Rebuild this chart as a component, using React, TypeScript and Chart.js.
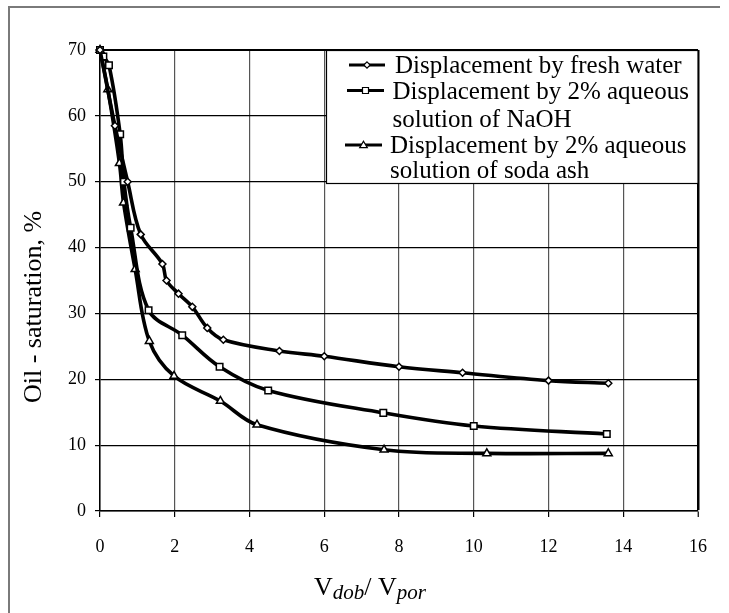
import React, { useEffect, useRef } from "react";
import { Chart, registerables } from "chart.js";

Chart.register(...registerables);

// ---- data ----
const freshX = [0, 0.4, 0.74, 1.09, 1.67, 1.78, 2.1, 2.47, 2.87, 3.3, 4.8, 6.0, 8.0, 9.7, 12.0, 13.6];
const freshY = [70, 58.5, 50, 42, 37.5, 35, 33, 31, 27.8, 26, 24.3, 23.5, 21.9, 21.0, 19.8, 19.4];

const naohX = [0, 0.09, 0.24, 0.54, 0.64, 0.82, 1.3, 2.2, 3.2, 4.5, 7.58, 10.0, 13.56];
const naohY = [70, 69, 67.7, 57.2, 50, 43, 30.5, 26.7, 21.9, 18.3, 14.9, 12.9, 11.7];

const sodaX = [0, 0.21, 0.52, 0.63, 0.94, 1.32, 1.98, 3.22, 4.2, 7.6, 10.35, 13.6];
const sodaY = [70, 64, 52.8, 46.8, 36.7, 25.8, 20.5, 16.7, 13.1, 9.3, 8.75, 8.75];

const legendLines = [
  ["Displacement by fresh water"],
  ["Displacement by 2% aqueous", "solution of NaOH"],
  ["Displacement by 2% aqueous", "solution of soda ash"],
];
const pointStyles = ["rectRot", "rect", "triangle"];
const pointRadii = [3.5, 4.6, 4.6];

const xTicks = [0, 2, 4, 6, 8, 10, 12, 14, 16];
const yTicks = [0, 10, 20, 30, 40, 50, 60, 70];
const yTitle = "Oil - saturation, %";
const xTitleParts = [
  { t: "V", sub: false },
  { t: "dob", sub: true },
  { t: "/ ", sub: false },
  { t: "V", sub: false },
  { t: "por", sub: true },
];

const SERIF = "'Liberation Serif', 'Times New Roman', serif";

const zip = (xs: number[], ys: number[]) => xs.map((x, i) => ({ x, y: ys[i] }));

const decorPlugin = {
  id: "decor",
  afterDraw(chart: any) {
    const ctx = chart.ctx as CanvasRenderingContext2D;
    const area = chart.chartArea;
    ctx.save();

    // outer frame (left + top)
    ctx.strokeStyle = "#7a7a7a";
    ctx.lineWidth = 2;
    ctx.beginPath();
    ctx.moveTo(9, 613);
    ctx.lineTo(9, 7);
    ctx.lineTo(720, 7);
    ctx.stroke();

    // legend box
    const bx = 326.5, by = area.top + 0.5, bw = area.right - 326.5, bh = 133;
    ctx.fillStyle = "#fff";
    ctx.fillRect(bx, by, bw, bh);
    ctx.strokeStyle = "#000";
    ctx.lineWidth = 1.2;
    ctx.strokeRect(bx, by, bw, bh);

    ctx.font = `25px ${SERIF}`;
    ctx.fillStyle = "#000";
    ctx.textBaseline = "alphabetic";
    ctx.textAlign = "left";
    const baselines = [[73], [98.5, 127], [153, 178]];
    const textX = [395, 392.5, 390];
    const symX = [[349, 385], [347, 384], [345, 382]];
    chart.data.datasets.forEach((ds: any, i: number) => {
      const lines = legendLines[i];
      lines.forEach((ln, j) => {
        ctx.fillText(ln, textX[i], baselines[i][j]);
      });
      const sy = baselines[i][0] - 8;
      ctx.strokeStyle = "#000";
      ctx.lineWidth = 3;
      ctx.beginPath();
      ctx.moveTo(symX[i][0], sy);
      ctx.lineTo(symX[i][1], sy);
      ctx.stroke();
      ctx.fillStyle = "#fff";
      ctx.strokeStyle = "#000";
      ctx.lineWidth = 1.2;
      ctx.beginPath();
      (Chart as any).helpers
        ? null
        : null;
      const cx = (symX[i][0] + symX[i][1]) / 2;
      const r = 3.2;
      if (ds.pointStyle === "rectRot") {
        ctx.moveTo(cx, sy - r); ctx.lineTo(cx + r, sy); ctx.lineTo(cx, sy + r); ctx.lineTo(cx - r, sy); ctx.closePath();
      } else if (ds.pointStyle === "rect") {
        ctx.rect(cx - 3, sy - 3, 6, 6);
      } else {
        ctx.moveTo(cx, sy - 3.8); ctx.lineTo(cx + 3.8, sy + 2.6); ctx.lineTo(cx - 3.8, sy + 2.6); ctx.closePath();
      }
      ctx.fill();
      ctx.stroke();
      ctx.fillStyle = "#000";
    });

    // y title
    ctx.save();
    ctx.translate(41, 307);
    ctx.rotate(-Math.PI / 2);
    ctx.font = `26px ${SERIF}`;
    ctx.textAlign = "center";
    ctx.textBaseline = "alphabetic";
    ctx.fillStyle = "#000";
    ctx.fillText(yTitle, 0, 0);
    ctx.restore();

    // x title
    const mainFont = `26px ${SERIF}`;
    const subFont = `italic 21px ${SERIF}`;
    let total = 0;
    const widths = xTitleParts.map((p) => {
      ctx.font = p.sub ? subFont : mainFont;
      const w = ctx.measureText(p.t).width;
      total += w;
      return w;
    });
    let x = 370 - total / 2;
    xTitleParts.forEach((p, i) => {
      ctx.font = p.sub ? subFont : mainFont;
      ctx.fillText(p.t, x, p.sub ? 599 : 595);
      x += widths[i];
    });

    ctx.restore();
  },
};

export default function App() {
  const ref = useRef<HTMLCanvasElement | null>(null);

  useEffect(() => {
    if (!ref.current) return;
    const mk = (label: string, xs: number[], ys: number[], i: number) => ({
      label,
      data: zip(xs, ys),
      borderColor: "#000",
      borderWidth: 3.6,
      backgroundColor: "#fff",
      pointStyle: pointStyles[i],
      pointRadius: pointRadii[i] - (i === 0 ? 0 : 0),
      pointBorderWidth: 1.5,
      pointBackgroundColor: "#fff",
      pointBorderColor: "#000",
      tension: 0.35,
      clip: false as any,
      fill: false,
    });

    const chart = new Chart(ref.current, {
      type: "line",
      data: {
        datasets: [
          mk(legendLines[0].join(" "), freshX, freshY, 0),
          mk(legendLines[1].join(" "), naohX, naohY, 1),
          mk(legendLines[2].join(" "), sodaX, sodaY, 2),
        ] as any,
      },
      options: {
        responsive: false,
        animation: false,
        devicePixelRatio: 1,
        layout: { padding: { top: 50, right: 31, left: 0, bottom: 0 } },
        plugins: {
          legend: { display: false },
          tooltip: { enabled: false },
        },
        scales: {
          x: {
            type: "linear",
            min: 0,
            max: 16,
            afterBuildTicks: (s: any) => {
              s.ticks = xTicks.map((v) => ({ value: v }));
            },
            afterFit: (s: any) => {
              s.height = 102;
            },
            ticks: {
              color: "#000",
              font: { family: SERIF, size: 18 },
              padding: 19,
              maxRotation: 0,
            },
            grid: {
              color: (c: any) => (c.tick && c.tick.value === 16 ? "#000" : "#555"),
              lineWidth: (c: any) => (c.tick && c.tick.value === 16 ? 2.5 : 1.2),
              tickLength: 6,
              tickColor: "#000",
              tickWidth: 1.2,
            },
            border: { color: "#000", width: 1.5 },
          },
          y: {
            type: "linear",
            min: 0,
            max: 70,
            afterBuildTicks: (s: any) => {
              s.ticks = yTicks.map((v) => ({ value: v }));
            },
            afterFit: (s: any) => {
              s.width = 100;
            },
            ticks: {
              color: "#000",
              font: { family: SERIF, size: 18 },
              padding: 9,
            },
            grid: {
              color: "#000",
              lineWidth: (c: any) => (c.tick && c.tick.value === 70 ? 2 : 1.2),
              tickLength: 5,
              tickColor: "#000",
              tickWidth: 1.2,
            },
            border: { color: "#000", width: 1.5 },
          },
        },
      } as any,
      plugins: [decorPlugin],
    });
    return () => chart.destroy();
  }, []);

  return (
    <div style={{ position: "absolute", left: 0, top: 0, width: 729, height: 613, background: "#fff" }}>
      <canvas ref={ref} width={729} height={613} style={{ display: "block" }} />
    </div>
  );
}
